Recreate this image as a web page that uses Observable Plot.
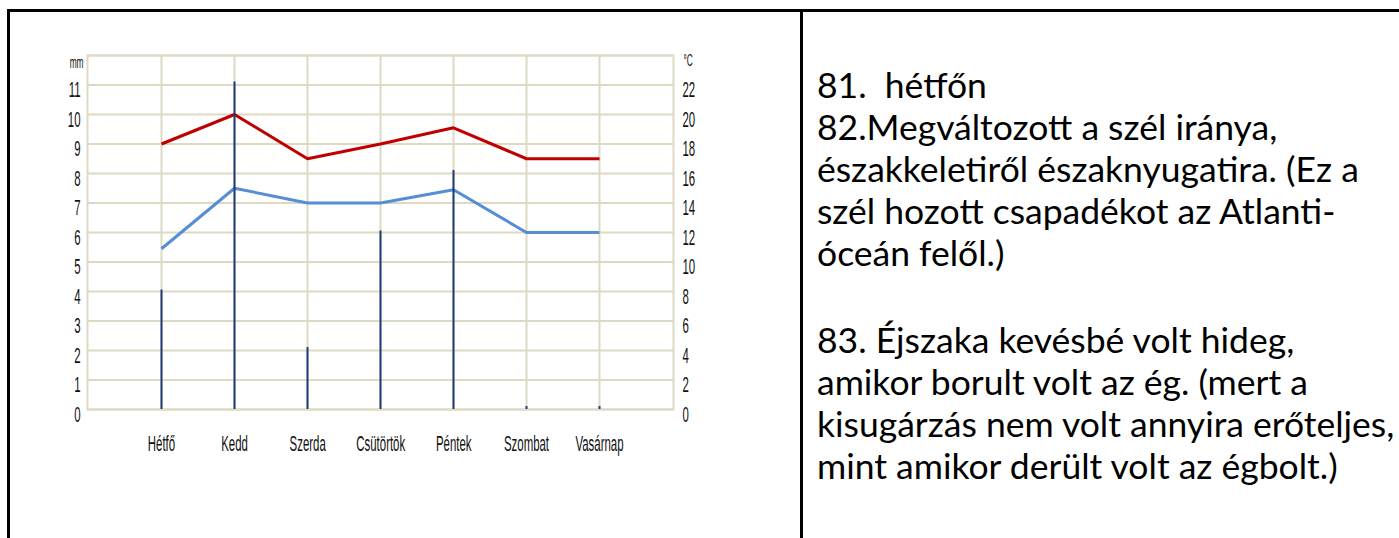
<!DOCTYPE html>
<html><head><meta charset="utf-8">
<script src="https://cdn.jsdelivr.net/npm/d3@7"></script>
<script src="https://cdn.jsdelivr.net/npm/@observablehq/plot@0.6"></script>
<style>
body{margin:0;background:#fff;}
#page{position:relative;width:1399px;height:538px;overflow:hidden;background:#fff;}
.layer{position:absolute;left:0;top:0;width:800px;height:480px;}
.rule{position:absolute;background:#000;}
#answers{position:absolute;left:817px;top:64px;font-family:Lato,"Open Sans",sans-serif;font-size:35.5px;line-height:42px;color:#000;white-space:nowrap;}
#answers p{margin:0;}
#answers p.gap{margin-top:45px;}
</style></head>
<body><div id="page">
<div class="layer" id="under"></div>
<div class="layer" id="over"></div>
<div class="rule" style="left:7px;top:9px;width:1392px;height:3px"></div>
<div class="rule" style="left:7px;top:9px;width:3px;height:529px"></div>
<div class="rule" style="left:800px;top:9px;width:3px;height:529px"></div>
<div id="answers">
<p>81.&nbsp; hétfőn</p>
<p>82.Megváltozott a szél iránya,<br>északkeletiről északnyugatira. (Ez a<br>szél hozott csapadékot az Atlanti-<br>óceán felől.)</p>
<p class="gap">83. Éjszaka kevésbé volt hideg,<br>amikor borult volt az ég. (mert a<br>kisugárzás nem volt annyira erőteljes,<br>mint amikor derült volt az égbolt.)</p>
</div>
</div>
<script>
const days = ["Hétfő", "Kedd", "Szerda", "Csütörtök", "Péntek", "Szombat", "Vasárnap"];
const precipitation = [4.05, 11.1, 2.1, 6.05, 8.1, 0.1, 0.1];   // mm
const tempMax = [18, 20, 17, 18, 19.1, 17, 17];                 // °C
const tempMin = [10.9, 15, 14, 14, 14.9, 12, 12];               // °C
const mmTicks = [0, 1, 2, 3, 4, 5, 6, 7, 8, 9, 10, 11];
const celsiusTicks = [0, 2, 4, 6, 8, 10, 12, 14, 16, 18, 20, 22];
const celsiusGrid = [0, 2, 4, 6, 8, 10, 12, 14, 16, 18, 20, 22, 24];

const rows = days.map((d, i) => ({day: d, p: precipitation[i], max: tempMax[i], min: tempMin[i]}));

const gridColor = "#ddd9c3";
const navy = "#1f3a78";
const font = "'Liberation Sans', Arial, sans-serif";

const common = {
  width: 800, height: 480,
  marginLeft: 87, marginRight: 127, marginTop: 55, marginBottom: 71,
  style: {background: "none", fontFamily: font, color: "#111"}
};

const under = Plot.plot({
  ...common,
  x: {type: "point", domain: days, padding: 1, axis: null},
  y: {domain: [0, 24]},
  marks: [
    Plot.ruleY(celsiusGrid, {stroke: gridColor, strokeWidth: 2}),
    Plot.ruleX(days, {stroke: gridColor, strokeWidth: 2}),
    Plot.frame({stroke: gridColor, strokeWidth: 2}),
    Plot.lineY(rows, {x: "day", y: "max", stroke: "#c00000", strokeWidth: 3, strokeLinecap: "butt", strokeLinejoin: "miter"}),
    Plot.lineY(rows, {x: "day", y: "min", stroke: "#558ed5", strokeWidth: 3, strokeLinecap: "butt", strokeLinejoin: "miter"}),
    Plot.axisY(celsiusTicks, {anchor: "right", tickSize: 0, tickPadding: 9, fontSize: 22, dy: 5, label: null}),
    Plot.text(["°C"], {y: [24], frameAnchor: "right", textAnchor: "start", dx: 10, dy: 5, fontSize: 16})
  ]
});

const over = Plot.plot({
  ...common,
  x: {type: "point", domain: days, padding: 1},
  y: {domain: [0, 12]},
  marks: [
    Plot.ruleX(rows, {x: "day", y1: 0, y2: "p", stroke: navy, strokeWidth: 2}),
    Plot.axisY(mmTicks, {anchor: "left", tickSize: 0, tickPadding: 7, fontSize: 22, dy: 5, label: null}),
    Plot.axisX(days, {anchor: "bottom", tickSize: 0, tickPadding: 26, fontSize: 22, label: null}),
    Plot.text(["mm"], {y: [12], frameAnchor: "left", textAnchor: "end", dx: -4, dy: 7, fontSize: 16})
  ]
});

document.getElementById("under").append(under);
document.getElementById("over").append(over);

// Narrow the chart lettering horizontally about each label's anchor point
function condense(svg, s) {
  svg.querySelectorAll("text").forEach(t => {
    let b;
    try { b = t.getBBox(); } catch (e) { return; }
    const anchor = getComputedStyle(t).textAnchor;
    const ax = anchor === "end" ? b.x + b.width : anchor === "middle" ? b.x + b.width / 2 : b.x;
    const tr = t.getAttribute("transform") || "";
    t.setAttribute("transform", `${tr} translate(${ax},0) scale(${s},1) translate(${-ax},0)`.trim());
  });
}
condense(under, 0.52);
condense(over, 0.52);
</script>
</body></html>
